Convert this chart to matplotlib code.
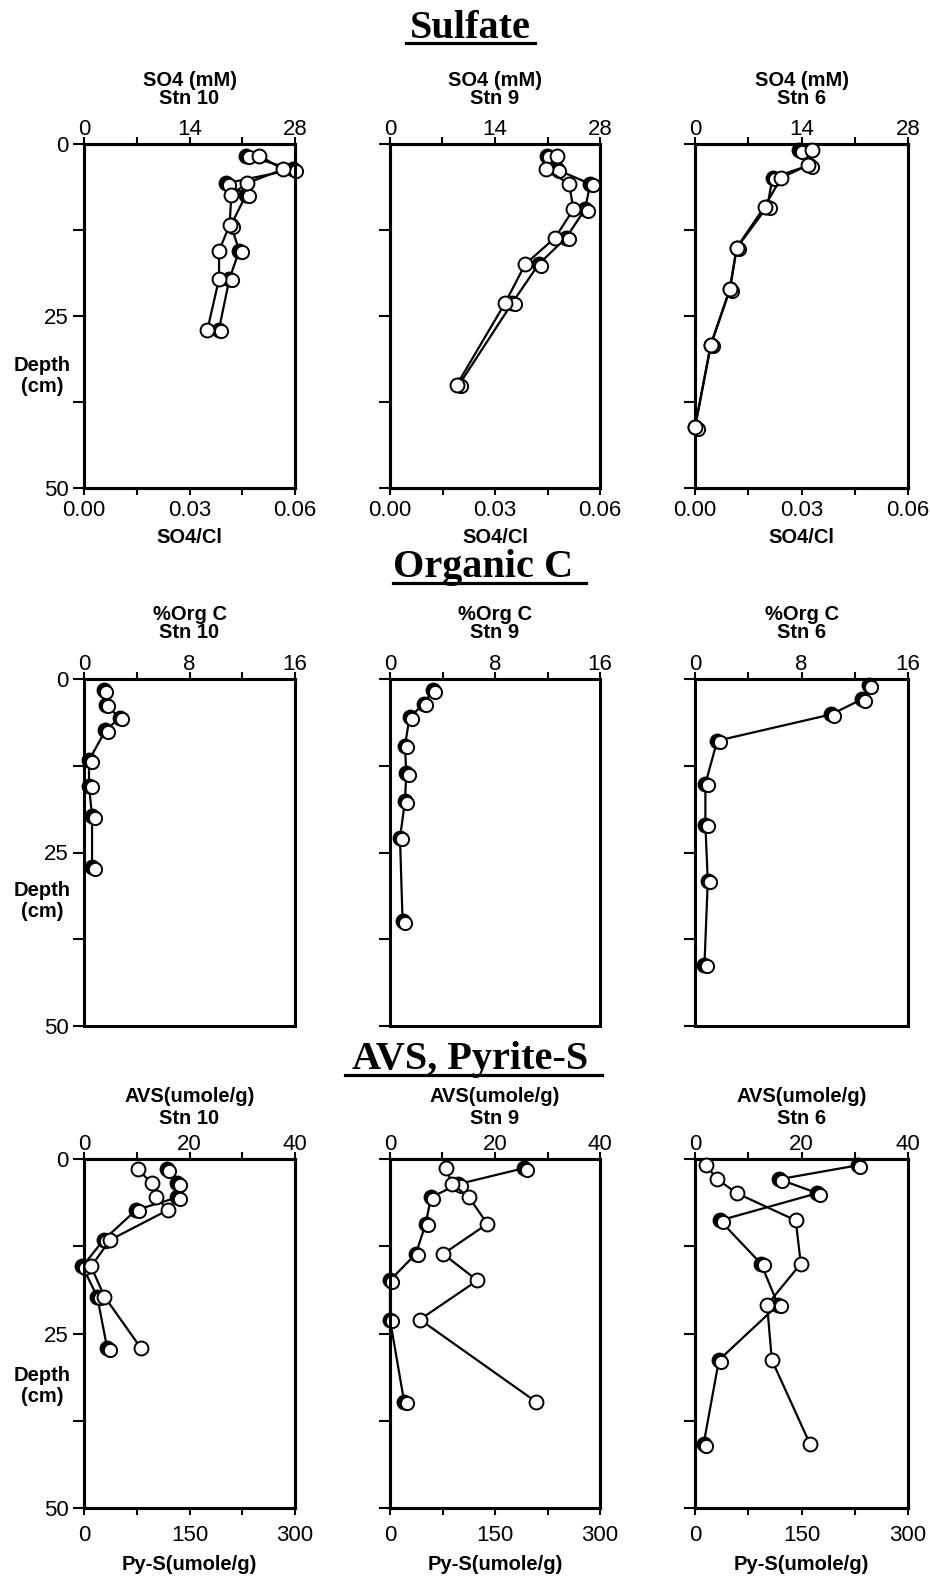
import matplotlib.pyplot as plt
from matplotlib.lines import Line2D
from matplotlib.transforms import offset_copy

plt.rcParams["font.family"] = ["Liberation Sans", "DejaVu Sans"]

stations = ["Stn 10", "Stn 9", "Stn 6"]

# --- Sulfate: filled = SO4 (mM, top axis), open = SO4/Cl (bottom axis)
so4_depth_10 = [1.7, 3.7, 5.7, 7.4, 11.8, 15.5, 19.6, 27.0]
so4_mm_10 = [21.5, 27.8, 18.9, 21.5, 19.5, 20.6, 19.3, 17.9]
so4_cl_10 = [0.0499, 0.0566, 0.0463, 0.0419, 0.0414, 0.0384, 0.0384, 0.0351]

so4_depth_9 = [1.7, 3.7, 5.8, 9.5, 13.6, 17.5, 23.1, 35.0]
so4_mm_9 = [20.9, 22.2, 26.7, 26.0, 23.5, 19.8, 16.3, 9.2]
so4_cl_9 = [0.0477, 0.0445, 0.0512, 0.0524, 0.0472, 0.0386, 0.0329, 0.0191]

so4_depth_6 = [0.9, 3.1, 4.9, 9.1, 15.1, 21.1, 29.2, 41.2]
so4_mm_6 = [13.7, 15.0, 10.2, 9.5, 5.5, 4.6, 2.1, 0.0]
so4_cl_6 = [0.0330, 0.0318, 0.0243, 0.0196, 0.0117, 0.0098, 0.0044, 0.0]

# --- Organic C (%)
orgc_depth_10 = [1.6, 3.7, 5.6, 7.4, 11.7, 15.4, 19.8, 27.1]
orgc_10 = [1.48, 1.65, 2.72, 1.63, 0.38, 0.38, 0.61, 0.61]

orgc_depth_9 = [1.6, 3.6, 5.5, 9.6, 13.6, 17.6, 22.9, 34.9]
orgc_9 = [3.27, 2.56, 1.49, 1.14, 1.24, 1.14, 0.76, 0.96]

orgc_depth_6 = [0.9, 2.9, 5.1, 8.9, 15.1, 21.0, 29.1, 41.2]
orgc_6 = [13.06, 12.56, 10.23, 1.67, 0.78, 0.78, 0.96, 0.71]

# --- AVS (filled, top axis) and pyrite-S (open, bottom axis), umole/g
avs_depth_10 = [1.5, 3.5, 5.5, 7.3, 11.6, 15.4, 19.7, 27.1]
avs_10 = [15.7, 17.7, 17.7, 9.9, 3.7, -0.3, 2.5, 4.4]
pys_10 = [76.7, 96.7, 102.9, 119.5, 37.1, 10.0, 29.0, 81.0]

avs_depth_9 = [1.3, 3.6, 5.5, 9.3, 13.6, 17.4, 23.0, 34.8]
avs_9 = [25.6, 13.0, 7.8, 6.8, 4.9, 0.0, 0.0, 2.7]
pys_9 = [79.7, 88.8, 113.0, 139.1, 75.9, 124.8, 42.7, 208.8]

avs_depth_6 = [0.9, 2.9, 4.9, 8.8, 15.0, 20.9, 28.8, 40.9]
avs_6 = [30.6, 15.8, 23.0, 4.7, 12.4, 15.6, 4.5, 1.6]
pys_6 = [15.7, 31.3, 58.9, 141.9, 149.0, 101.6, 108.2, 162.3]

W, H = 930, 1576
fig = plt.figure(figsize=(W / 100, H / 100), dpi=100)

col_x = [(84, 295), (390, 600), (695, 908)]
row_y = [(144, 488), (679, 1026), (1159, 1508)]

TICK_FS = 16
LAB_FS = 14.5


def make_axes(col, row):
    x0, x1 = col_x[col]
    y0, y1 = row_y[row]
    return fig.add_axes([x0 / W, 1 - y1 / H, (x1 - x0) / W, (y1 - y0) / H])


def style_depth(ax, col):
    ax.set_ylim(50, 0)
    ax.set_yticks([0, 12.5, 25, 37.5, 50])
    if col == 0:
        ax.set_yticklabels(["0", "", "25", "", "50"])
    else:
        ax.set_yticklabels([""] * 5)
    ax.tick_params(axis="y", direction="out", length=8, width=1.5,
                   labelsize=TICK_FS, pad=3, right=False)
    for s in ax.spines.values():
        s.set_linewidth(2.2)


def style_x(ax, lim, ticks, labels, top, pad=3):
    ax.set_xlim(*lim)
    ax.set_xticks(ticks)
    ax.set_xticklabels(labels)
    if top:
        ax.xaxis.set_ticks_position("top")
        ax.tick_params(axis="x", which="both", top=True, bottom=False,
                       labeltop=True, labelbottom=False)
    ax.tick_params(axis="x", direction="out", length=5, width=1.5,
                   labelsize=TICK_FS, pad=pad)
    for s in ax.spines.values():
        s.set_linewidth(2.2)


def plot_filled(ax, x, y):
    ax.plot(x, y, "-", color="black", lw=1.6, zorder=2, clip_on=False)
    ax.plot(x, y, "o", ms=10, mfc="black", mec="black", mew=1.4,
            zorder=3, clip_on=False, ls="none")
    shift = offset_copy(ax.transData, fig=fig, x=2.5, y=-1.5, units="dots")
    ax.plot(x, y, "o", ms=9.5, mfc="white", mec="black", mew=1.4,
            zorder=4, clip_on=False, ls="none", transform=shift)


def plot_open(ax, x, y):
    ax.plot(x, y, "-", color="black", lw=1.6, zorder=2, clip_on=False)
    ax.plot(x, y, "o", ms=10, mfc="white", mec="black", mew=1.4,
            zorder=5, clip_on=False, ls="none")


def titles(ax, first, second, up1, up2):
    ax.annotate(first, xy=(0.5, 1), xycoords="axes fraction",
                xytext=(0, up1 * 0.72), textcoords="offset points",
                ha="center", va="center", fontsize=LAB_FS, fontweight="bold")
    ax.annotate(second, xy=(0.5, 1), xycoords="axes fraction",
                xytext=(0, up2 * 0.72), textcoords="offset points",
                ha="center", va="center", fontsize=LAB_FS, fontweight="bold")


def depth_label(ax, yfrac):
    ax.text(-0.2, yfrac, "Depth\n(cm)", transform=ax.transAxes,
            ha="center", va="center", fontsize=LAB_FS, fontweight="bold",
            linespacing=1.15)


def section_title(text, xc, baseline, ux0, ux1, uy):
    fig.text(xc / W, 1 - baseline / H, text, ha="center", va="baseline",
             fontsize=29, fontweight="bold", family="Liberation Serif")
    fig.add_artist(Line2D([ux0 / W, ux1 / W], [1 - uy / H, 1 - uy / H],
                          color="black", lw=2.3, transform=fig.transFigure))


# row 1: sulfate
so4_sets = [
    (so4_depth_10, so4_mm_10, so4_cl_10),
    (so4_depth_9, so4_mm_9, so4_cl_9),
    (so4_depth_6, so4_mm_6, so4_cl_6),
]
for col, (dep, mm, ratio) in enumerate(so4_sets):
    ax = make_axes(col, 0)
    axt = ax.twiny()
    ax.set_zorder(axt.get_zorder() + 1)
    ax.patch.set_visible(False)
    style_depth(ax, col)
    style_x(ax, (0, 0.06), [0, 0.015, 0.03, 0.045, 0.06],
            ["0.00", "", "0.03", "", "0.06"], top=False, pad=4)
    style_x(axt, (0, 28), [0, 7, 14, 21, 28], ["0", "", "14", "", "28"],
            top=True, pad=-2)
    plot_filled(axt, mm, dep)
    plot_open(ax, ratio, dep)
    ax.set_xlabel("SO4/Cl", fontsize=LAB_FS, fontweight="bold", labelpad=5)
    titles(ax, "SO4 (mM)", stations[col], 63, 45)
    if col == 0:
        depth_label(ax, 0.325)

# row 2: organic C
orgc_sets = [(orgc_depth_10, orgc_10), (orgc_depth_9, orgc_9), (orgc_depth_6, orgc_6)]
for col, (dep, oc) in enumerate(orgc_sets):
    ax = make_axes(col, 1)
    style_depth(ax, col)
    style_x(ax, (0, 16), [0, 4, 8, 12, 16], ["0", "", "8", "", "16"],
            top=True, pad=-2)
    plot_filled(ax, oc, dep)
    titles(ax, "%Org C", stations[col], 64, 46)
    if col == 0:
        depth_label(ax, 0.36)

# row 3: AVS and pyrite-S
avs_sets = [
    (avs_depth_10, avs_10, pys_10),
    (avs_depth_9, avs_9, pys_9),
    (avs_depth_6, avs_6, pys_6),
]
for col, (dep, avs, pys) in enumerate(avs_sets):
    ax = make_axes(col, 2)
    axt = ax.twiny()
    ax.set_zorder(axt.get_zorder() + 1)
    ax.patch.set_visible(False)
    style_depth(ax, col)
    style_x(ax, (0, 300), [0, 75, 150, 225, 300], ["0", "", "150", "", "300"],
            top=False, pad=7)
    style_x(axt, (0, 40), [0, 10, 20, 30, 40], ["0", "", "20", "", "40"],
            top=True, pad=-2)
    plot_filled(axt, avs, dep)
    plot_open(ax, pys, dep)
    ax.set_xlabel("Py-S(umole/g)", fontsize=LAB_FS, fontweight="bold", labelpad=7)
    titles(ax, "AVS(umole/g)", stations[col], 62, 41)
    if col == 0:
        depth_label(ax, 0.35)

section_title("Sulfate", 470, 38, 406, 535, 43)
section_title("Organic C", 483, 577, 393, 586, 583)
section_title("AVS, Pyrite-S", 470, 1069, 345, 602, 1075)

fig.savefig("out.png", dpi=100)
